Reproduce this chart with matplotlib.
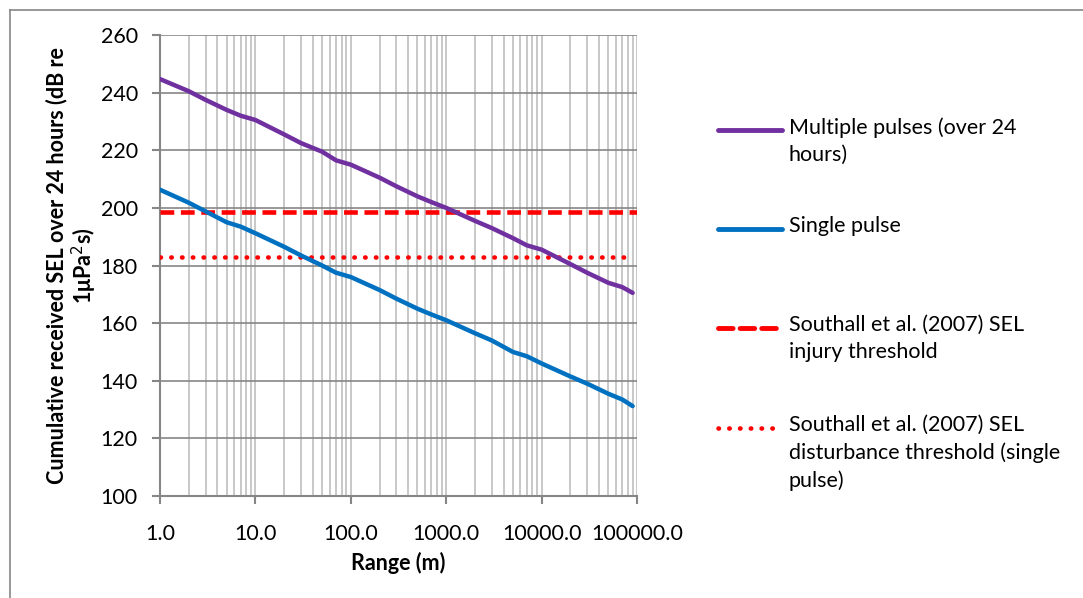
import matplotlib
matplotlib.use('Agg')
import matplotlib.pyplot as plt
import matplotlib.ticker as ticker
from matplotlib.lines import Line2D

# data
range_m = [1, 2, 3, 5, 7, 10, 20, 30, 50, 70, 100, 200, 300, 500, 700,
           1000, 2000, 3000, 5000, 7000, 10000, 20000, 30000, 50000, 70000, 90000]
multiple_pulses = [244.7, 240.5, 237.5, 234.0, 232.0, 230.5, 225.5, 222.5, 219.5, 216.5, 215.0,
                   210.5, 207.5, 204.0, 202.0, 200.0, 195.5, 193.0, 189.5, 187.0, 185.5,
                   180.5, 177.5, 174.0, 172.5, 170.5]
single_pulse = [206.3, 201.8, 198.8, 195.0, 193.5, 191.2, 186.5, 183.5, 180.0, 177.5, 176.0,
                171.5, 168.5, 165.0, 163.0, 161.0, 156.5, 154.0, 150.0, 148.5, 146.0,
                141.5, 139.0, 135.5, 133.5, 131.2]
injury_threshold = 198.5
disturbance_threshold = 183.0
dotted_end = 80000

labels = ['Multiple pulses (over 24\nhours)',
          'Single pulse',
          'Southall et al. (2007) SEL\ninjury threshold',
          'Southall et al. (2007) SEL\ndisturbance threshold (single\npulse)']

PURPLE = '#7030a0'
BLUE = '#0070c0'
RED = '#ff0000'
MAJOR = '#868686'
MINOR = '#bfbfbf'

plt.rcParams['font.family'] = ['Lato', 'DejaVu Sans']

fig = plt.figure(figsize=(10.83, 5.98), dpi=100)
W, H = 1083, 598

# outer chart border (left + top only visible)
fig.add_artist(Line2D([10 / W, 10 / W], [0, 1 - 10 / H], color=MAJOR, lw=1.2))
fig.add_artist(Line2D([10 / W, 1], [1 - 10 / H, 1 - 10 / H], color=MAJOR, lw=1.2))

ax = fig.add_axes([160 / W, 1 - 496 / H, 477 / W, 461 / H])
ax.set_xscale('log')
ax.set_xlim(1, 100000)
ax.set_ylim(100, 260)

ax.plot(range_m, multiple_pulses, color=PURPLE, lw=3.2, solid_capstyle='round', zorder=4)
ax.plot(range_m, single_pulse, color=BLUE, lw=3.2, solid_capstyle='round', zorder=4)
ax.plot([1, 100000], [injury_threshold] * 2, color=RED, lw=3.3, dashes=(3.0, 1.45), zorder=3)
ax.plot([1, dotted_end], [disturbance_threshold] * 2, color=RED, lw=3.3,
        dashes=(0.1, 2.25), dash_capstyle='round', zorder=3)

# grid
ax.yaxis.set_major_locator(ticker.MultipleLocator(20))
ax.xaxis.set_major_locator(ticker.LogLocator(base=10, numticks=10))
ax.xaxis.set_minor_locator(ticker.LogLocator(base=10, subs=range(2, 10), numticks=10))
ax.xaxis.set_minor_formatter(ticker.NullFormatter())
ax.xaxis.set_major_formatter(ticker.FuncFormatter(lambda v, p: f'{v:.1f}'))
ax.grid(which='major', axis='y', color=MAJOR, lw=1.2)
ax.grid(which='major', axis='x', color=MINOR, lw=1.2)
ax.grid(which='minor', axis='x', color=MINOR, lw=1.2)
ax.set_axisbelow(True)

for s in ['top', 'right']:
    ax.spines[s].set_visible(False)
for s in ['left', 'bottom']:
    ax.spines[s].set_color(MAJOR)
    ax.spines[s].set_linewidth(1.5)

ax.tick_params(which='major', direction='out', length=6, width=1.5, color=MAJOR,
               labelsize=15.5)
ax.tick_params(which='minor', length=0)
ax.tick_params(axis='y', pad=10)
ax.tick_params(axis='x', pad=14)

ax.set_xlabel('Range (m)', fontsize=15.5, fontweight='bold', labelpad=6)
ax.set_ylabel('Cumulative received SEL over 24 hours (dB re\n1\u03bcPa$^2$s)',
              fontsize=15.5, fontweight='bold', labelpad=1, linespacing=1.12)

# legend drawn at the reference positions
handles = [
    dict(color=PURPLE, lw=3.5, ls='-', y=130, x1=782),
    dict(color=BLUE, lw=3.5, ls='-', y=229, x1=782),
    dict(color=RED, lw=3.5, ls=(0, (3.0, 1.45)), y=328, x1=776),
    dict(color=RED, lw=3.3, ls=(0, (0.1, 2.25)), y=428, x1=776),
]
for h, lab in zip(handles, labels):
    yf = 1 - h['y'] / H
    fig.add_artist(Line2D([718 / W, h['x1'] / W], [yf, yf], color=h['color'], lw=h['lw'],
                          linestyle=h['ls'], solid_capstyle='round', dash_capstyle='round'))
    fig.text(789 / W, yf + 13 / H, lab, fontsize=15.5, va='top', ha='left', linespacing=1.45)

fig.savefig('out.png', dpi=100)
